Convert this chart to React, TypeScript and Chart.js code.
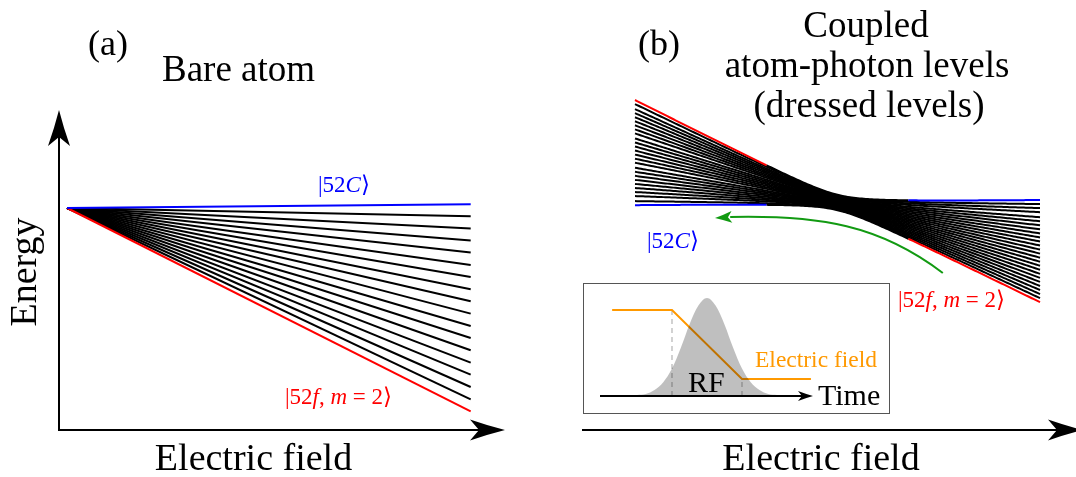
import { useEffect, useRef } from "react";
import { Chart, registerables } from "chart.js";

Chart.register(...registerables);

const SERIF = '"Liberation Serif", "Times New Roman", "DejaVu Serif", serif';
const RED = "#ff0000";
const BLUE = "#0000ff";
const GREEN = "#129a12";
const ORANGE = "#ff9900";

// (a) Bare atom: Stark fan, every level starts at the same energy at zero field
const bareFieldEnds = [0, 1];
const bareEnergyAtZeroField = 0;
// energy of each level at the largest field, |52C> first, |52f, m=2> last
const bareEnergyAtMaxField = [
  0.37, -0.83, -2.06, -3.26, -4.46, -5.7, -6.9, -8.13, -9.33, -10.56, -11.8,
  -13.0, -14.23, -15.46, -16.66, -17.9, -19.13, -20.33,
];

// (b) Dressed levels: energies at the two ends of the field sweep, top to bottom
const dressedFieldEnds = [0.2, 1.0];
const crossingField = 0.6;
const crossingEnergy = 0;
const dressedEnergyLeft = [
  10.2, 9.8, 9.3, 8.9, 8.5, 8.1, 7.7, 7.3, 6.9, 6.4, 6.0, 5.6, 5.2, 4.8, 4.4,
  4.0, 3.5, 3.1, 2.7, 2.3, 1.9, 1.5, 1.1, 0.7, 0.2, -0.2,
];
const dressedEnergyRight = [
  0.2, -0.2, -0.6, -1.0, -1.5, -1.9, -2.3, -2.7, -3.1, -3.5, -3.9, -4.3, -4.7,
  -5.1, -5.5, -5.9, -6.3, -6.7, -7.1, -7.5, -7.9, -8.3, -8.7, -9.1, -9.5, -9.9,
];
const couplingWidth = 0.06;
const diabaticColourOffset = 0.14;

// adiabatic sweep arrow (cubic Bézier then tip), field / energy units
const sweepField = [0.808, 0.684, 0.565, 0.388, 0.358];
const sweepEnergy = [-7.04, -2.24, -1.24, -1.44, -1.54];

// inset: RF pulse envelope and electric-field ramp versus time
const pulseTime = [-2, -1.75, -1.5, -1.25, -1, -0.75, -0.5, -0.25, 0, 0.25, 0.5, 0.75, 1, 1.25, 1.5, 1.75, 2];
const pulseEnvelope = [0.01, 0.02, 0.06, 0.14, 0.28, 0.49, 0.73, 0.92, 1.0, 0.92, 0.73, 0.49, 0.28, 0.14, 0.06, 0.02, 0.01];
const rampTime = [-2.71, -1, 1, 2.97];
const rampField = [0.878, 0.878, 0.173, 0.173];

type Part = [string, boolean];
const labelC: Part[] = [["|52", false], ["C", true], ["\u27E9", false]];
const labelF: Part[] = [["|52", false], ["f", true], [", ", false], ["m", true], [" = 2", false], ["\u27E9", false]];

function mathLabel(ctx: CanvasRenderingContext2D, x: number, y: number, parts: Part[], size: number, colour: string) {
  ctx.save();
  ctx.fillStyle = colour;
  ctx.textAlign = "left";
  ctx.textBaseline = "alphabetic";
  let cx = x;
  for (const [t, italic] of parts) {
    ctx.font = `${italic ? "italic " : ""}${size}px ${SERIF}`;
    ctx.fillText(t, cx, y);
    cx += ctx.measureText(t).width;
  }
  ctx.restore();
}

function stealthArrow(ctx: CanvasRenderingContext2D, x: number, y: number, angle: number, len: number, half: number, notch: number, colour = "#000") {
  ctx.save();
  ctx.translate(x, y);
  ctx.rotate(angle);
  ctx.fillStyle = colour;
  ctx.beginPath();
  ctx.moveTo(0, 0);
  ctx.quadraticCurveTo(-len * 0.5, -half * 0.42, -len, -half);
  ctx.lineTo(-len + notch, 0);
  ctx.lineTo(-len, half);
  ctx.quadraticCurveTo(-len * 0.5, half * 0.42, 0, 0);
  ctx.closePath();
  ctx.fill();
  ctx.restore();
}

function baseOptions(xMin: number, xMax: number, yMin: number, yMax: number, padding: any): any {
  return {
    animation: false,
    responsive: false,
    events: [],
    layout: { padding },
    plugins: { legend: { display: false }, tooltip: { enabled: false }, title: { display: false } },
    elements: { point: { radius: 0 }, line: { tension: 0, borderCapStyle: "butt" } },
    scales: {
      x: { type: "linear", display: false, min: xMin, max: xMax },
      y: { type: "linear", display: false, min: yMin, max: yMax },
    },
  };
}

function bareDatasets() {
  const last = bareEnergyAtMaxField.length - 1;
  const ds = bareEnergyAtMaxField.map((e, i) => ({
    data: bareFieldEnds.map((f, k) => ({ x: f, y: k === 0 ? bareEnergyAtZeroField : e })),
    borderColor: i === 0 ? BLUE : i === last ? RED : "#000",
    borderWidth: 2,
    fill: false,
  }));
  // draw coloured levels on top
  return [ds[0], ds[last], ...ds.slice(1, last)];
}

function dressedCurve(i: number) {
  const [fL, fR] = dressedFieldEnds;
  const aL = (dressedEnergyLeft[i] - crossingEnergy) / (fL - crossingField);
  const aR = (dressedEnergyRight[i] - crossingEnergy) / (fR - crossingField);
  const pts: { x: number; y: number }[] = [];
  const steps = 200;
  for (let k = 0; k <= steps; k++) {
    const f = fL + ((fR - fL) * k) / steps;
    const d = f - crossingField;
    const e = crossingEnergy + ((aL + aR) / 2) * d + ((aR - aL) / 2) * Math.sqrt(d * d + couplingWidth * couplingWidth);
    pts.push({ x: f, y: e });
  }
  return pts;
}

function dressedDatasets() {
  const last = dressedEnergyLeft.length - 1;
  const colourFor = (i: number, f: number) => {
    if (i !== 0 && i !== last) return "#000";
    const leftColour = i === 0 ? RED : BLUE;
    const rightColour = i === 0 ? BLUE : RED;
    if (f < crossingField - diabaticColourOffset) return leftColour;
    if (f > crossingField + diabaticColourOffset) return rightColour;
    return "#000";
  };
  const ds = dressedEnergyLeft.map((_, i) => ({
    data: dressedCurve(i),
    borderColor: "#000",
    borderWidth: 2,
    fill: false,
    segment: {
      borderColor: (c: any) => colourFor(i, (c.p0.parsed.x + c.p1.parsed.x) / 2),
    },
  }));
  return [ds[0], ds[last], ...ds.slice(1, last)];
}

const panelAPlugin = {
  id: "panelA",
  afterDraw(chart: any) {
    const { ctx, chartArea: a } = chart;
    ctx.save();
    ctx.strokeStyle = "#000";
    ctx.lineWidth = 2;
    ctx.beginPath();
    ctx.moveTo(a.left, a.top + 20);
    ctx.lineTo(a.left, a.bottom);
    ctx.lineTo(a.right - 20, a.bottom);
    ctx.stroke();
    stealthArrow(ctx, a.right, a.bottom, 0, 35, 10.5, 9);
    stealthArrow(ctx, a.left, a.top, -Math.PI / 2, 36, 11, 9);

    ctx.fillStyle = "#000";
    ctx.textBaseline = "alphabetic";
    ctx.textAlign = "left";
    ctx.font = `36px ${SERIF}`;
    ctx.fillText("(a)", 88, 55);
    ctx.font = `37px ${SERIF}`;
    ctx.fillText("Bare atom", 162, 81);
    ctx.font = `38px ${SERIF}`;
    ctx.textAlign = "center";
    ctx.fillText("Electric field", 253.5, 470);
    ctx.save();
    ctx.translate(36, 272);
    ctx.rotate(-Math.PI / 2);
    ctx.fillText("Energy", 0, 0);
    ctx.restore();
    ctx.restore();

    mathLabel(ctx, 318, 192, labelC, 23, BLUE);
    mathLabel(ctx, 285, 404, labelF, 23, RED);
  },
};

const panelBPlugin = {
  id: "panelB",
  afterDraw(chart: any) {
    const { ctx, chartArea: a } = chart;
    const xs = chart.scales.x;
    const ys = chart.scales.y;
    ctx.save();
    ctx.strokeStyle = "#000";
    ctx.lineWidth = 2;
    ctx.beginPath();
    ctx.moveTo(a.left, a.bottom);
    ctx.lineTo(a.right - 10, a.bottom);
    ctx.stroke();
    stealthArrow(ctx, a.right + 7, a.bottom, 0, 35, 10.5, 9);

    // adiabatic passage arrow
    const px = sweepField.map((f) => xs.getPixelForValue(f));
    const py = sweepEnergy.map((e) => ys.getPixelForValue(e));
    ctx.strokeStyle = GREEN;
    ctx.lineWidth = 2;
    ctx.beginPath();
    ctx.moveTo(px[0], py[0]);
    ctx.bezierCurveTo(px[1], py[1], px[2], py[2], px[3], py[3]);
    ctx.stroke();
    const ang = Math.atan2(py[4] - py[3], px[4] - px[3]);
    stealthArrow(ctx, px[4], py[4], ang, 17, 6, 4, GREEN);

    ctx.fillStyle = "#000";
    ctx.textBaseline = "alphabetic";
    ctx.textAlign = "left";
    ctx.font = `36px ${SERIF}`;
    ctx.fillText("(b)", 98, 55);
    ctx.textAlign = "center";
    ctx.font = `37px ${SERIF}`;
    ctx.fillText("Coupled", 326, 37);
    ctx.fillText("atom-photon levels", 327, 77);
    ctx.fillText("(dressed levels)", 329, 117);
    ctx.font = `38px ${SERIF}`;
    ctx.fillText("Electric field", 281, 470);
    ctx.restore();

    mathLabel(ctx, 107, 248, labelC, 23, BLUE);
    mathLabel(ctx, 358, 307, labelF, 23, RED);
  },
};

const insetPlugin = {
  id: "inset",
  afterDraw(chart: any) {
    const { ctx, chartArea: a, width, height } = chart;
    const ys = chart.scales.y;
    ctx.save();
    ctx.strokeStyle = "#555";
    ctx.lineWidth = 1;
    ctx.strokeRect(0.5, 0.5, width - 1, height - 1);

    const y0 = ys.getPixelForValue(0);
    ctx.strokeStyle = "#000";
    ctx.lineWidth = 2;
    ctx.beginPath();
    ctx.moveTo(a.left, y0);
    ctx.lineTo(a.right - 8, y0);
    ctx.stroke();
    stealthArrow(ctx, a.right, y0, 0, 15, 5, 4);

    ctx.textBaseline = "alphabetic";
    ctx.textAlign = "left";
    ctx.fillStyle = "#000";
    ctx.font = `30px ${SERIF}`;
    ctx.fillText("RF", 105, 109);
    ctx.fillText("Time", 235, 122);
    ctx.fillStyle = ORANGE;
    ctx.font = `23.5px ${SERIF}`;
    ctx.fillText("Electric field", 172, 83.5);
    ctx.restore();
  },
};

export default function App() {
  const aRef = useRef<HTMLCanvasElement>(null);
  const bRef = useRef<HTMLCanvasElement>(null);
  const iRef = useRef<HTMLCanvasElement>(null);

  useEffect(() => {
    const charts: Chart[] = [];

    charts.push(
      new Chart(aRef.current as HTMLCanvasElement, {
        type: "line",
        data: { datasets: bareDatasets() as any },
        options: baseOptions(-0.02, 1.085, -22.2, 9.8, { left: 59, right: 35, top: 110, bottom: 47 }),
        plugins: [panelAPlugin],
      })
    );

    charts.push(
      new Chart(bRef.current as HTMLCanvasElement, {
        type: "line",
        data: { datasets: dressedDatasets() as any },
        options: baseOptions(0.0953, 1.0711, -22.74, 11.26, { left: 42, right: 0, top: 90, bottom: 47 }),
        plugins: [panelBPlugin],
      })
    );

    charts.push(
      new Chart(iRef.current as HTMLCanvasElement, {
        type: "line",
        data: {
          datasets: [
            {
              data: pulseTime.map((t, k) => ({ x: t, y: pulseEnvelope[k] })),
              borderWidth: 0,
              borderColor: "rgba(0,0,0,0)",
              backgroundColor: "rgba(0,0,0,0.25)",
              fill: "origin",
              cubicInterpolationMode: "monotone",
            },
            {
              data: rampTime.map((t, k) => ({ x: t, y: rampField[k] })),
              borderColor: ORANGE,
              borderWidth: 2,
              fill: false,
            },
            {
              data: [{ x: rampTime[1], y: 0 }, { x: rampTime[1], y: rampField[1] }],
              borderColor: "#b4b4b4",
              borderWidth: 1.2,
              borderDash: [5, 4],
              fill: false,
            },
            {
              data: [{ x: rampTime[2], y: 0 }, { x: rampTime[2], y: rampField[2] }],
              borderColor: "#b4b4b4",
              borderWidth: 1.2,
              borderDash: [5, 4],
              fill: false,
            },
          ] as any,
        },
        options: baseOptions(-3.057, 3.029, 0, 1, { left: 17, right: 77, top: 15, bottom: 18 }),
        plugins: [insetPlugin],
      })
    );

    return () => charts.forEach((c) => c.destroy());
  }, []);

  return (
    <div style={{ position: "absolute", left: 0, top: 0, width: 1076, height: 477, background: "#fff", overflow: "hidden" }}>
      <canvas ref={aRef} width={540} height={477} style={{ position: "absolute", left: 0, top: 0 }} />
      <canvas ref={bRef} width={536} height={477} style={{ position: "absolute", left: 540, top: 0 }} />
      <canvas ref={iRef} width={307} height={131} style={{ position: "absolute", left: 583, top: 283, background: "#fff" }} />
    </div>
  );
}
